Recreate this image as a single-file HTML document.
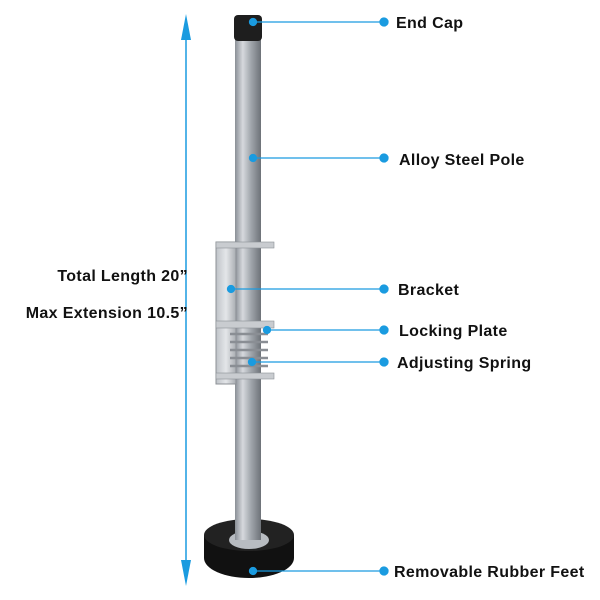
<!DOCTYPE html>
<html><head><style>body{margin:0;background:#fff}svg{display:block}text{font-family:"Liberation Sans",sans-serif;font-weight:bold;font-size:16px;letter-spacing:0.35px;fill:#111}</style></head><body>
<svg width="600" height="600" viewBox="0 0 600 600">
<defs>
<linearGradient id="pg" x1="0" x2="1"><stop offset="0" stop-color="#8a8f96"/><stop offset=".3" stop-color="#d6d9dd"/><stop offset=".6" stop-color="#a3a8ae"/><stop offset="1" stop-color="#6d7278"/></linearGradient>
<linearGradient id="bg" x1="0" x2="1"><stop offset="0" stop-color="#bfc3c8"/><stop offset=".5" stop-color="#e4e6e9"/><stop offset="1" stop-color="#a9adb2"/></linearGradient>
</defs>
<line x1="186" y1="30" x2="186" y2="572" stroke="#1a9be0" stroke-width="1.5"/>
<polygon points="186,14 181,40 191,40" fill="#1a9be0"/>
<polygon points="186,586 181,560 191,560" fill="#1a9be0"/>
<text x="188" y="281" text-anchor="end">Total Length 20”</text>
<text x="188" y="318" text-anchor="end">Max Extension 10.5”</text>
<ellipse cx="249" cy="558" rx="45" ry="20" fill="#111"/>
<rect x="204" y="535" width="90" height="23" fill="#111"/>
<ellipse cx="249" cy="535" rx="45" ry="16" fill="#222"/>
<ellipse cx="249" cy="540" rx="20" ry="9" fill="#b8bcc1"/>
<rect x="235" y="38" width="26" height="502" fill="url(#pg)"/>
<rect x="234" y="15" width="28" height="26" rx="4" fill="#1e1e1e"/>
<rect x="216" y="242" width="20" height="142" fill="url(#bg)" stroke="#8c9096" stroke-width="1"/>
<rect x="216" y="242" width="58" height="6" fill="#c9ccd0" stroke="#8c9096" stroke-width="0.6"/>
<rect x="216" y="321" width="58" height="7" fill="#c9ccd0" stroke="#8c9096" stroke-width="0.6"/>
<rect x="216" y="373" width="58" height="6" fill="#c9ccd0" stroke="#8c9096" stroke-width="0.6"/>
<g stroke="#8a8e94" stroke-width="2.5">
<line x1="230" y1="334" x2="268" y2="334"/><line x1="230" y1="342" x2="268" y2="342"/><line x1="230" y1="350" x2="268" y2="350"/><line x1="230" y1="358" x2="268" y2="358"/><line x1="230" y1="366" x2="268" y2="366"/></g>
<g stroke="#1a9be0" stroke-width="1.3" fill="#1a9be0">
<line x1="253" y1="22" x2="384" y2="22"/><circle cx="253" cy="22" r="3.5"/><circle cx="384" cy="22" r="4"/>
<line x1="253" y1="158" x2="384" y2="158"/><circle cx="253" cy="158" r="3.5"/><circle cx="384" cy="158" r="4"/>
<line x1="231" y1="289" x2="384" y2="289"/><circle cx="231" cy="289" r="3.5"/><circle cx="384" cy="289" r="4"/>
<line x1="267" y1="330" x2="384" y2="330"/><circle cx="267" cy="330" r="3.5"/><circle cx="384" cy="330" r="4"/>
<line x1="252" y1="362" x2="384" y2="362"/><circle cx="252" cy="362" r="3.5"/><circle cx="384" cy="362" r="4"/>
<line x1="253" y1="571" x2="384" y2="571"/><circle cx="253" cy="571" r="3.5"/><circle cx="384" cy="571" r="4"/>
</g>
<text x="396" y="28">End Cap</text>
<text x="399" y="165">Alloy Steel Pole</text>
<text x="398" y="295">Bracket</text>
<text x="399" y="336">Locking Plate</text>
<text x="397" y="368">Adjusting Spring</text>
<text x="394" y="577">Removable Rubber Feet</text>
</svg>
</body></html>
